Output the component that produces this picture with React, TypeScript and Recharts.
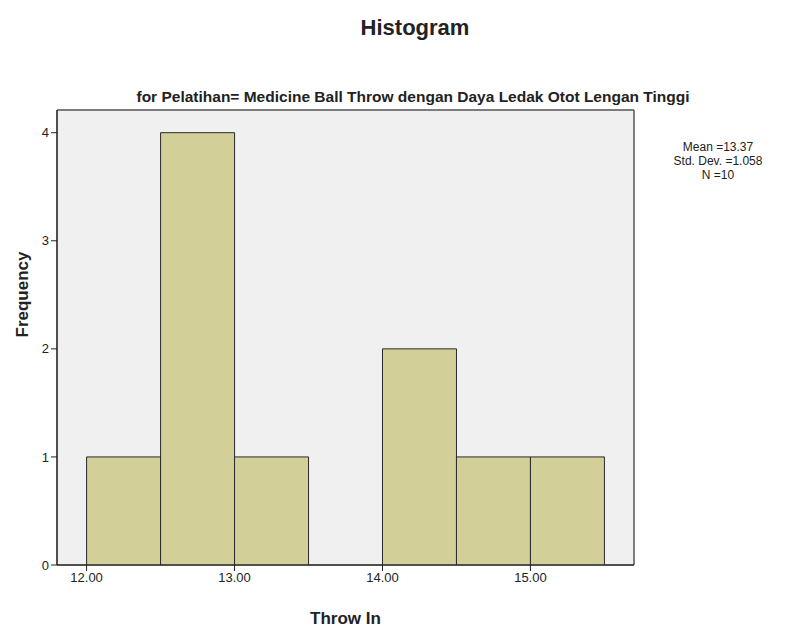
import { ComposedChart, Bar, XAxis, YAxis, CartesianGrid } from 'recharts'

const binCenters = [12.25, 12.75, 13.25, 13.75, 14.25, 14.75, 15.25]
const frequencies = [1, 4, 1, 0, 2, 1, 1]
const xTicks = [12, 13, 14, 15]
const yTicks = [0, 1, 2, 3, 4]
const statsLines = ['Mean =13.37', 'Std. Dev. =1.058', 'N =10']

const data = binCenters.map((x, i) => ({ x, freq: frequencies[i] }))

const FONT = '"Liberation Sans", Arial, sans-serif'
const INK = '#222'

export default function App() {
  return (
    <div style={{ position: 'absolute', left: 0, top: 0, width: 794, height: 628, background: '#fff', fontFamily: FONT }}>
      <div style={{ position: 'absolute', left: 0, width: 830, top: 15, textAlign: 'center', fontSize: 22, fontWeight: 'bold', color: INK }}>
        Histogram
      </div>
      <div style={{ position: 'absolute', left: 0, width: 826, top: 88, textAlign: 'center', fontSize: 15.5, fontWeight: 'bold', color: INK }}>
        for Pelatihan= Medicine Ball Throw dengan Daya Ledak Otot Lengan Tinggi
      </div>
      <div style={{ position: 'absolute', left: 660, width: 116, top: 140, textAlign: 'center', fontSize: 12, lineHeight: '14px', color: INK }}>
        {statsLines.map(s => (
          <div key={s}>{s}</div>
        ))}
      </div>
      <ComposedChart
        width={794}
        height={628}
        data={data}
        margin={{ top: 110, right: 160, bottom: 33, left: 17 }}
        barCategoryGap={0}
        barGap={0}
      >
        <CartesianGrid
          fill="#f0f0f0"
          stroke="#555"
          strokeWidth={1.5}
          horizontalCoordinatesGenerator={({ offset }: any) => [offset.top, offset.top + offset.height]}
          verticalCoordinatesGenerator={({ offset }: any) => [offset.left, offset.left + offset.width]}
        />
        <XAxis
          dataKey="x"
          type="number"
          domain={[11.8, 15.7]}
          ticks={xTicks}
          tickFormatter={(v: number) => v.toFixed(2)}
          height={30}
          stroke={INK}
          tickSize={6}
          tick={{ fill: INK, fontSize: 13, fontFamily: FONT }}
          label={{ value: 'Throw In', position: 'insideBottom', offset: -29, fill: INK, fontSize: 17, fontWeight: 'bold', fontFamily: FONT }}
        />
        <YAxis
          type="number"
          domain={[0, 4.21]}
          ticks={yTicks}
          allowDataOverflow
          width={40}
          stroke={INK}
          tickSize={6}
          tick={{ fill: INK, fontSize: 13, fontFamily: FONT }}
          label={{ value: 'Frequency', angle: -90, position: 'insideLeft', offset: 5, fill: INK, fontSize: 17, fontWeight: 'bold', fontFamily: FONT }}
        />
        <Bar dataKey="freq" fill="#d3cf98" stroke="#2a2a2a" strokeWidth={1} isAnimationActive={false} />
      </ComposedChart>
    </div>
  )
}
